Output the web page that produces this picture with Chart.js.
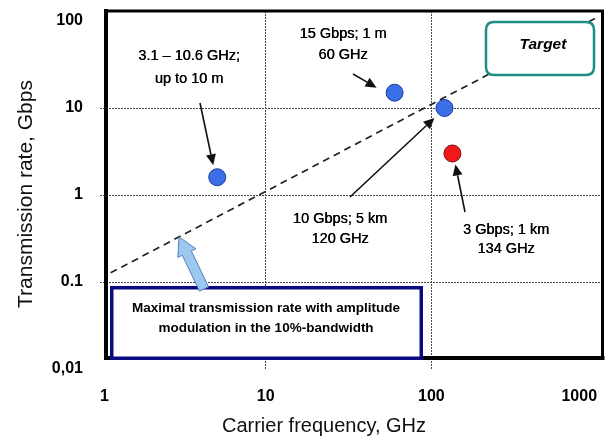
<!DOCTYPE html>
<html>
<head>
<meta charset="utf-8">
<script src="https://cdn.jsdelivr.net/npm/chart.js@4/dist/chart.umd.min.js"></script>
<style>
  html, body { margin: 0; padding: 0; background: #fff; }
  #wrap { width: 612px; height: 447px; }
</style>
</head>
<body>
<div id="wrap"><canvas id="c" width="612" height="447"></canvas></div>
<script>
const FONT = '"Liberation Sans", Arial, Helvetica, sans-serif';

// Demonstrated links: carrier frequency (GHz) and transmission rate (Gbps)
const systemFreq = [5.1, 60, 120];
const systemRate = [1.6, 15, 10];
const highlightFreq = [134];
const highlightRate = [3];

// Maximal rate with amplitude modulation in a 10 % bandwidth
const limitFreq = [1, 1000];
const limitRate = [0.11, 110];

// Axis ticks
const xTickValues = [1, 10, 100, 1000];
const xTickLabels = ['1', '10', '100', '1000'];
const yTickValues = [0.01, 0.1, 1, 10, 100];
const yTickLabels = ['0,01', '0.1', '1', '10', '100'];

// Texts
const xTitle = 'Carrier frequency, GHz';
const yTitle = 'Transmission rate, Gbps';
const noteLines = [
  ['3.1 \u2013 10.6 GHz;', 'up to 10 m'],
  ['15 Gbps; 1 m', '60 GHz'],
  ['10 Gbps; 5 km', '120 GHz'],
  ['3 Gbps; 1 km', '134 GHz']
];
const boundLines = ['Maximal transmission rate with amplitude', 'modulation in the 10%-bandwidth'];
const targetLabel = 'Target';
const boundArrowFreq = 3;

// Which marker each note refers to: [dataset index, point index]
const noteTargets = [[1, 0], [1, 1], [1, 2], [2, 0]];

// Layout of the notes (pixels): text centre, line baselines, arrow tail, arrow tip offset from the marker
const noteLayout = [
  { cx: 189, ys: [60, 83], tail: [200, 103], tip: [-4, -12] },
  { cx: 343, ys: [38, 59], tail: [353, 74], tip: [-18, -5] },
  { cx: 340, ys: [223, 243], tail: [350, 197], tip: [-10, 10] },
  { cx: 506, ys: [234, 253], tail: [465, 212], tip: [3, 11] }
];

function gridColor(keep) {
  return c => (c.tick && keep.includes(c.tick.value)) ? '#4a4a4a' : 'rgba(0,0,0,0)';
}

// Keep the plot area fixed: no extra room for edge labels
function fixBox(prop, size) {
  return s => {
    s[prop] = size;
    s.paddingLeft = 0; s.paddingRight = 0; s.paddingTop = 0; s.paddingBottom = 0;
  };
}

function drawArrow(ctx, x1, y1, x2, y2, head, half, lw) {
  const a = Math.atan2(y2 - y1, x2 - x1);
  const bx = x2 - head * Math.cos(a), by = y2 - head * Math.sin(a);
  ctx.save();
  ctx.strokeStyle = '#111';
  ctx.fillStyle = '#111';
  ctx.lineWidth = lw;
  ctx.beginPath(); ctx.moveTo(x1, y1); ctx.lineTo(bx, by); ctx.stroke();
  ctx.beginPath();
  ctx.moveTo(x2, y2);
  ctx.lineTo(bx + half * Math.sin(a), by - half * Math.cos(a));
  ctx.lineTo(bx - half * Math.sin(a), by + half * Math.cos(a));
  ctx.closePath(); ctx.fill();
  ctx.restore();
}

function drawFatArrow(ctx, bx, by, tx, ty) {
  const L = Math.hypot(tx - bx, ty - by);
  const ux = (tx - bx) / L, uy = (ty - by) / L;
  const nx = -uy, ny = ux;
  const headLen = 18, headHalf = 10, shaftHalf = 5;
  const hx = tx - ux * headLen, hy = ty - uy * headLen;
  ctx.save();
  ctx.beginPath();
  ctx.moveTo(bx + nx * shaftHalf, by + ny * shaftHalf);
  ctx.lineTo(hx + nx * shaftHalf, hy + ny * shaftHalf);
  ctx.lineTo(hx + nx * headHalf, hy + ny * headHalf);
  ctx.lineTo(tx, ty);
  ctx.lineTo(hx - nx * headHalf, hy - ny * headHalf);
  ctx.lineTo(hx - nx * shaftHalf, hy - ny * shaftHalf);
  ctx.lineTo(bx - nx * shaftHalf, by - ny * shaftHalf);
  ctx.closePath();
  ctx.fillStyle = '#9cc7ef';
  ctx.fill();
  ctx.strokeStyle = '#4f7fb8';
  ctx.lineWidth = 1;
  ctx.stroke();
  ctx.restore();
}

function roundRect(ctx, x, y, w, h, r) {
  ctx.beginPath();
  ctx.moveTo(x + r, y);
  ctx.lineTo(x + w - r, y); ctx.quadraticCurveTo(x + w, y, x + w, y + r);
  ctx.lineTo(x + w, y + h - r); ctx.quadraticCurveTo(x + w, y + h, x + w - r, y + h);
  ctx.lineTo(x + r, y + h); ctx.quadraticCurveTo(x, y + h, x, y + h - r);
  ctx.lineTo(x, y + r); ctx.quadraticCurveTo(x, y, x + r, y);
  ctx.closePath();
}

// Plot frame, drawn over the grid and under the markers
const framePlugin = {
  id: 'frame',
  beforeDatasetsDraw(chart) {
    const { ctx, chartArea: a } = chart;
    ctx.save();
    ctx.strokeStyle = '#000';
    ctx.lineCap = 'square';
    ctx.lineWidth = 3;
    ctx.beginPath(); ctx.moveTo(a.left, a.top); ctx.lineTo(a.right, a.top); ctx.lineTo(a.right, a.bottom); ctx.stroke();
    ctx.lineWidth = 4;
    ctx.beginPath(); ctx.moveTo(a.left, a.top); ctx.lineTo(a.left, a.bottom); ctx.lineTo(a.right, a.bottom); ctx.stroke();
    ctx.restore();
  }
};

// Boxes, notes, arrows and axis titles
const notesPlugin = {
  id: 'notes',
  afterDatasetsDraw(chart) {
    const { ctx } = chart;
    const xs = chart.scales.x, ys = chart.scales.y;

    // Target box
    ctx.save();
    roundRect(ctx, 486, 22, 108, 53, 8);
    ctx.fillStyle = '#fff'; ctx.fill();
    ctx.strokeStyle = '#1f8d84'; ctx.lineWidth = 2.5; ctx.stroke();
    ctx.fillStyle = '#000';
    ctx.font = 'italic bold 15.5px ' + FONT;
    ctx.textAlign = 'center'; ctx.textBaseline = 'alphabetic';
    ctx.fillText(targetLabel, 543, 49);
    ctx.restore();

    // Bound description box
    ctx.save();
    ctx.fillStyle = '#fff';
    ctx.fillRect(110, 286, 313, 74);
    ctx.strokeStyle = '#0a0a82'; ctx.lineWidth = 3.5;
    ctx.strokeRect(111.75, 287.75, 309.5, 70.5);
    ctx.fillStyle = '#000';
    ctx.font = 'bold 13.5px ' + FONT;
    ctx.textAlign = 'center'; ctx.textBaseline = 'alphabetic';
    ctx.fillText(boundLines[0], 266, 312);
    ctx.fillText(boundLines[1], 266, 332);
    ctx.restore();

    // Notes with arrows to their markers
    ctx.save();
    ctx.fillStyle = '#000';
    ctx.font = '14.5px ' + FONT;
    ctx.textAlign = 'center'; ctx.textBaseline = 'alphabetic';
    noteLines.forEach((lines, i) => {
      const L = noteLayout[i];
      lines.forEach((t, k) => {
        ctx.fillText(t, L.cx, L.ys[k]);
        ctx.fillText(t, L.cx + 0.4, L.ys[k]);
      });
      const [di, pi] = noteTargets[i];
      const el = chart.getDatasetMeta(di).data[pi];
      drawArrow(ctx, L.tail[0], L.tail[1], el.x + L.tip[0], el.y + L.tip[1], 11, 5, 1.6);
    });
    ctx.restore();

    // Fat arrow onto the bound line
    const slope = Math.log(limitRate[1] / limitRate[0]) / Math.log(limitFreq[1] / limitFreq[0]);
    const rateAt = limitRate[0] * Math.pow(boundArrowFreq / limitFreq[0], slope);
    drawFatArrow(ctx, 204, 289, xs.getPixelForValue(boundArrowFreq), ys.getPixelForValue(rateAt));

    // Axis titles
    ctx.save();
    ctx.fillStyle = '#111';
    ctx.font = '20px ' + FONT;
    ctx.textAlign = 'center'; ctx.textBaseline = 'alphabetic';
    ctx.fillText(xTitle, 324, 432);
    ctx.translate(32, 194);
    ctx.rotate(-Math.PI / 2);
    ctx.font = '21px ' + FONT;
    ctx.fillText(yTitle, 0, 0);
    ctx.restore();
  }
};

const tickFont = { family: FONT, size: 16, weight: 'bold' };

new Chart(document.getElementById('c'), {
  type: 'scatter',
  data: {
    datasets: [
      {
        type: 'line',
        data: limitFreq.map((x, i) => ({ x, y: limitRate[i] })),
        borderColor: '#222',
        borderWidth: 1.7,
        borderDash: [7, 5],
        pointRadius: 0,
        fill: false
      },
      {
        data: systemFreq.map((x, i) => ({ x, y: systemRate[i] })),
        pointRadius: 8.5,
        backgroundColor: '#3b6fe8',
        borderColor: '#1c3a9c',
        borderWidth: 1
      },
      {
        data: highlightFreq.map((x, i) => ({ x, y: highlightRate[i] })),
        pointRadius: 8.5,
        backgroundColor: '#ee1a1a',
        borderColor: '#7d0d0d',
        borderWidth: 1
      }
    ]
  },
  options: {
    responsive: false,
    animation: false,
    devicePixelRatio: 1,
    layout: { padding: { top: 11, right: 8.5, left: 0, bottom: 0 } },
    plugins: { legend: { display: false }, tooltip: { enabled: false } },
    scales: {
      x: {
        type: 'logarithmic',
        position: 'bottom',
        min: 1.087,
        max: 1079,
        bounds: 'data',
        afterBuildTicks: s => { s.ticks = xTickValues.map(v => ({ value: v })); },
        afterFit: fixBox('height', 89),
        ticks: {
          autoSkip: false, maxRotation: 0, padding: 18, align: 'inner', color: '#000', font: tickFont,
          callback: (v, i) => xTickLabels[i]
        },
        grid: {
          color: gridColor([10, 100]), tickColor: gridColor([10, 100]),
          lineWidth: 1, tickLength: 11, tickBorderDash: [2, 1]
        },
        border: { display: false, dash: [2, 1] }
      },
      y: {
        type: 'logarithmic',
        position: 'left',
        min: 0.01338,
        max: 130.3,
        bounds: 'data',
        afterBuildTicks: s => { s.ticks = yTickValues.map(v => ({ value: v })); },
        afterFit: fixBox('width', 106),
        ticks: {
          autoSkip: false, padding: 17, color: '#000', font: tickFont,
          callback: (v, i) => yTickLabels[i]
        },
        grid: {
          color: gridColor([0.1, 1, 10]), tickColor: gridColor([0.1, 1, 10]),
          lineWidth: 1, tickLength: 6, tickBorderDash: [2, 1]
        },
        border: { display: false, dash: [2, 1] }
      }
    }
  },
  plugins: [framePlugin, notesPlugin]
});
</script>
</body>
</html>
